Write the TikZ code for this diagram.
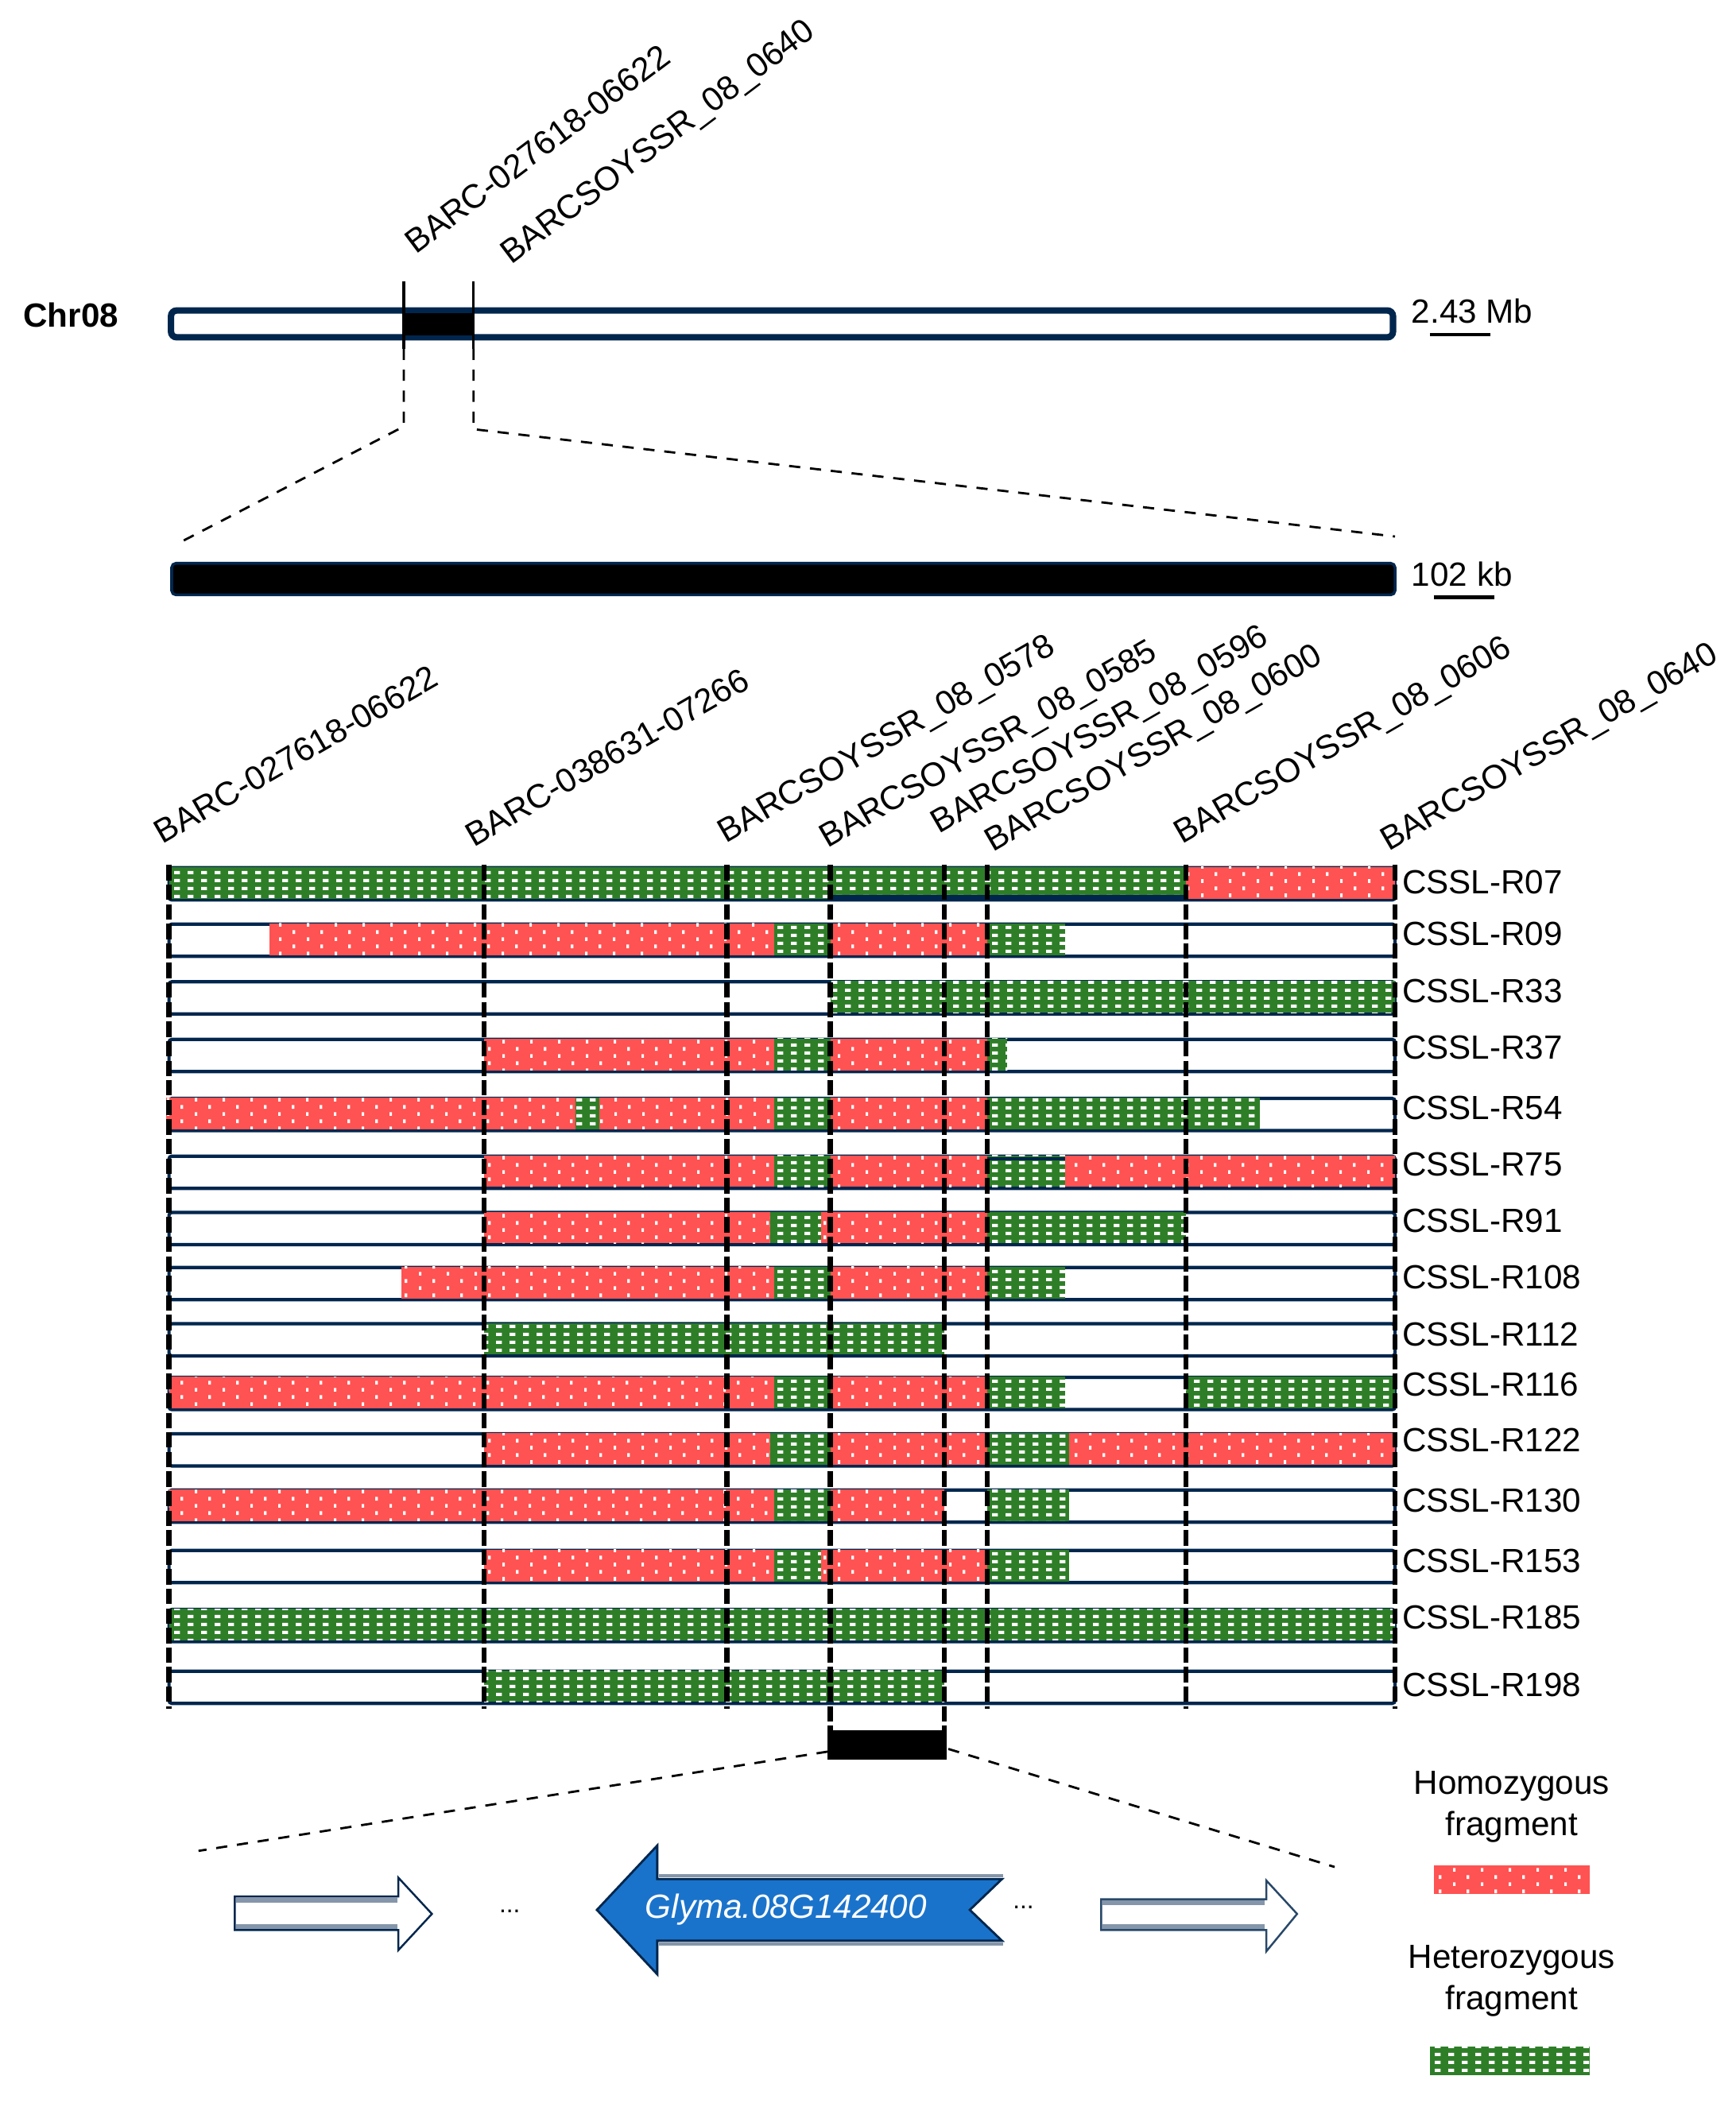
\documentclass[tikz,border=0pt]{standalone}
\usepackage{fontspec}
\setmainfont{Liberation Sans}
\usetikzlibrary{patterns.meta}

\definecolor{navy}{RGB}{0,38,77}
\definecolor{homred}{RGB}{255,82,82}
\definecolor{hetgreen}{RGB}{46,126,40}
\definecolor{geneblue}{RGB}{26,115,203}
\definecolor{slate}{RGB}{133,150,170}

\pgfdeclarepattern{
  name=homdots, type=uncolored,
  bottom left={\pgfpoint{0pt}{0pt}}, top right={\pgfpoint{10pt}{5.2pt}},
  tile size={\pgfpoint{10pt}{5.2pt}},
  code={
    \pgfpathrectangle{\pgfpoint{0pt}{0pt}}{\pgfpoint{0.9pt}{1.4pt}}
    \pgfpathrectangle{\pgfpoint{5pt}{2.6pt}}{\pgfpoint{0.9pt}{1.4pt}}
    \pgfusepath{fill}
  }}
\pgfdeclarepattern{
  name=hetsquares, type=uncolored,
  bottom left={\pgfpoint{0pt}{0pt}}, top right={\pgfpoint{4.8pt}{2.8pt}},
  tile size={\pgfpoint{4.8pt}{2.8pt}},
  code={
    \pgfpathrectangle{\pgfpoint{0pt}{0pt}}{\pgfpoint{2.1pt}{1.2pt}}
    \pgfusepath{fill}
  }}

\begin{document}
\begin{tikzpicture}[
        x=0.1687mm, y=-0.1687mm,
        font=\fontsize{12}{14.8}\selectfont,
        txt/.style={inner sep=0pt},
        marker/.style={anchor=base west, inner sep=0pt},
        rowbox/.style={draw=navy, line width=1.2pt, rounded corners=1pt},
        hom/.style={fill=homred, postaction={pattern=homdots, pattern color=white}},
        het/.style={fill=hetgreen, postaction={pattern=hetsquares, pattern color=white}},
        mkline/.style={line width=1.8pt, dash pattern=on 5.5pt off 1.5pt},
        zoomline/.style={line width=0.8pt, dash pattern=on 4pt off 3.5pt},
        tick/.style={line width=1pt},
        scalebar/.style={line width=1.4pt},
        hollow/.style={fill=white, draw=navy, line width=0.7pt},
        band/.style={slate, line width=1.8pt},
    ]
        \useasboundingbox (0,0) rectangle (1294,1568);

        \node[marker] (chr-name) at (17,244) {\textbf{Chr08}};
        \draw[navy, line width=2.3pt, rounded corners=2pt, fill=white]
            (127.5,231.5) rectangle (1038.5,251.5);
        \fill[black] (300,233.5) rectangle (352.5,250);
        \coordinate (sel-l) at (301,210);
        \coordinate (sel-r) at (353,210);
        \draw[tick] (sel-l) -- ++(0,50) coordinate (sel-lb);
        \draw[tick] (sel-r) -- ++(0,50) coordinate (sel-rb);
        \node[marker, rotate=37] (top-barc) at (310,190) {BARC-027618-06622};
        \node[marker, rotate=37] (top-ssr) at (381,198) {BARCSOYSSR\_08\_0640};
        \node[marker] (chr-scale) at (1052,241) {2.43 Mb};
        \draw[scalebar] (1066,249.5) -- (1111,249.5);

        \draw[navy, line width=1pt, fill=black, rounded corners=1.5pt]
            (128,420) rectangle (1040,443.5);
        \coordinate (kb-l) at (135,404);
        \coordinate (kb-r) at (1040,400);
        \draw[zoomline] (sel-lb) -- ++(0,58) -- (kb-l);
        \draw[zoomline] (sel-rb) -- ++(0,60) -- (kb-r);
        \node[marker] (kb-scale) at (1052,437) {102 kb};
        \draw[scalebar] (1069,445.5) -- (1114,445.5);

        \foreach \x [count=\i] in {126,361,542,619,704,736,884,1040}
            \coordinate (mk\i) at (\x,645);
        \foreach \i/\lx/\ly/\txt in {1/121/630/BARC-027618-06622,
                2/353/632/BARC-038631-07266, 3/541/629/BARCSOYSSR\_08\_0578,
                4/617/633/BARCSOYSSR\_08\_0585, 5/700/622/BARCSOYSSR\_08\_0596,
                6/740/636/BARCSOYSSR\_08\_0600, 7/881/630/BARCSOYSSR\_08\_0606,
                8/1035/635/BARCSOYSSR\_08\_0640}
            \node[marker, rotate=30] (lab\i) at (\lx,\ly) {\txt};

        \foreach \yt/\ly/\nm/\segs in {
                647/658/R07/{126/884/het, 884/1040/hom},
                689/696/R09/{201/577/hom, 577/619/het, 619/736/hom, 736/794/het},
                732/739/R33/{619/1040/het},
                775/781/R37/{361/577/hom, 577/619/het, 619/736/hom, 736/751/het},
                819/826/R54/{124/429/hom, 429/447/het, 447/577/hom, 577/619/het, 619/736/hom, 736/939/het},
                862/868/R75/{361/577/hom, 577/619/het, 619/736/hom, 736/794/het, 794/1040/hom},
                904/910/R91/{361/574/hom, 574/612/het, 612/736/hom, 736/884/het},
                945/952/R108/{299/577/hom, 577/619/het, 619/736/hom, 736/794/het},
                987/995/R112/{361/704/het},
                1027/1032/R116/{126/577/hom, 577/619/het, 619/736/hom, 736/794/het, 884/1040/het},
                1069/1074/R122/{361/574/hom, 574/619/het, 619/736/hom, 736/797/het, 797/1040/hom},
                1111/1119/R130/{126/577/hom, 577/619/het, 619/704/hom, 736/797/het},
                1156/1164/R153/{361/577/hom, 577/612/het, 612/736/hom, 736/797/het},
                1200/1206/R185/{126/1040/het},
                1246/1256/R198/{361/704/het}} {
            \draw[rowbox] (126,\yt) rectangle (1040,\yt+24);
            \foreach \xa/\xb/\kind in \segs
                \fill[\kind] (\xa,\yt-0.5) rectangle (\xb,\yt+23);
            \node[txt, anchor=west] (row-\nm) at (1045,\ly) {CSSL-\nm};
        }
        \draw[navy, line width=1.8pt] (619,669) -- (884,669);
        \draw[navy, line width=1.3pt] (736,864) -- (794,864);

        \fill[black] (617,1290) rectangle (706,1312);
        \coordinate (cand-l) at (619,1290);
        \coordinate (cand-r) at (704,1290);
        \foreach \i in {1,2,3,6,7,8}
            \draw[mkline] (mk\i) -- ++(0,629);
        \draw[mkline] (mk4) -- (cand-l);
        \draw[mkline] (mk5) -- (cand-r);

        \coordinate (cand-bl) at (617,1306);
        \coordinate (cand-br) at (707,1304);
        \coordinate (genes-l) at (148,1380);
        \coordinate (genes-r) at (995,1392);
        \draw[zoomline] (cand-bl) -- (genes-l);
        \draw[zoomline] (cand-br) -- (genes-r);

        \draw[hollow] (175,1414) -- (297,1414) -- (297,1400) -- (322,1427)
            -- (297,1454) -- (297,1439) -- (175,1439) -- cycle;
        \draw[band] (176,1416.5) -- (296,1416.5) (176,1436.5) -- (296,1436.5);
        \node[txt, font=\fontsize{9}{10}\selectfont, anchor=base] (dots-l) at (380,1426) {...};

        \draw[draw=navy, line width=0.8pt, fill=geneblue] (445,1424) -- (490,1376)
            -- (490,1401) -- (747,1401) -- (723,1424) -- (747,1447) -- (490,1447)
            -- (490,1472) -- cycle;
        \draw[band, line width=1.2pt] (491,1398.5) -- (748,1398.5) (491,1449.5) -- (748,1449.5);
        \node[txt, text=white] (gene) at (586,1424) {\textit{Glyma.08G142400}};
        \node[txt, font=\fontsize{9}{10}\selectfont, anchor=base] (dots-r) at (763,1423) {...};

        \draw[hollow, draw=navy!70!slate] (821,1416) -- (944,1416) -- (944,1402) -- (967,1427)
            -- (944,1455) -- (944,1439) -- (821,1439) -- cycle;
        \draw[band] (822,1418.5) -- (943,1418.5) (822,1436.5) -- (943,1436.5);

        \node[txt, align=center, anchor=north] (leg-hom) at (1127,1320) {Homozygous\\fragment};
        \fill[hom] (1069,1391) rectangle (1185,1412);
        \node[txt, align=center, anchor=north] (leg-het) at (1127,1450) {Heterozygous\\fragment};
        \fill[het] (1066,1526) rectangle (1185,1547);
    \end{tikzpicture}
\end{document}
